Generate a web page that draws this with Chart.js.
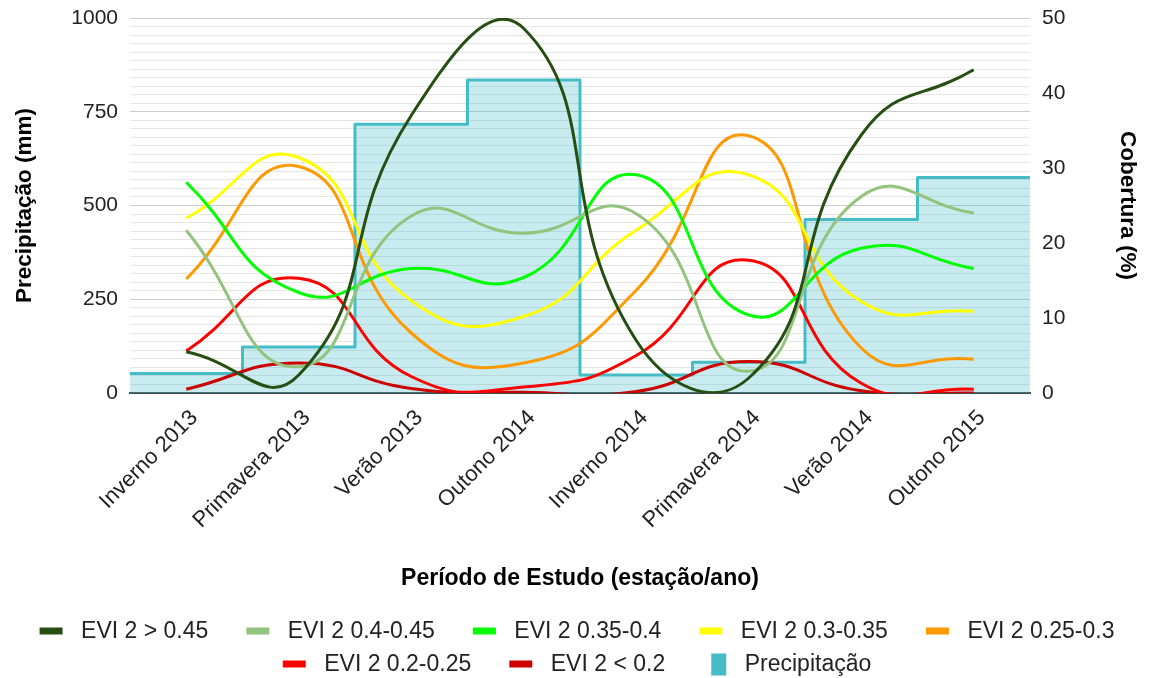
<!DOCTYPE html>
<html>
<head>
<meta charset="utf-8">
<script src="https://cdn.jsdelivr.net/npm/chart.js@4/dist/chart.umd.min.js"></script>
<style>
  html, body { margin: 0; background: #fff; }
  #wrap { width: 1150px; height: 678px; }
</style>
</head>
<body>
<div id="wrap"><canvas id="chart"></canvas></div>
<script>
// data
const periods = ["Inverno 2013", "Primavera 2013", "Verão 2013", "Outono 2014",
                 "Inverno 2014", "Primavera 2014", "Verão 2014", "Outono 2015"];
const precip   = [52, 123, 717, 835, 48, 82, 463, 575];        // mm
const evi045   = [5.5, 2.4, 37.0, 48.6, 7.0, 2.0, 34.4, 43.1]; // %
const evi04    = [21.7, 3.5, 23.6, 21.3, 23.9, 2.9, 26.2, 24.0];
const evi035   = [28.1, 13.4, 16.6, 15.4, 29.1, 10.4, 19.3, 16.6];
const evi03    = [23.3, 31.4, 12.3, 10.2, 21.7, 29.1, 12.2, 10.9];
const evi025   = [15.2, 30.2, 8.0, 4.0, 13.7, 34.3, 6.0, 4.5];
const evi02    = [5.6, 15.3, 2.2, 0.8, 5.0, 17.7, 1.3, 0.5];
const evi0     = [0.5, 4.0, 0.6, 0.1, 0.2, 4.2, 0.3, 0.0];

const seriesNames  = ["EVI 2 > 0.45", "EVI 2 0.4-0.45", "EVI 2 0.35-0.4", "EVI 2 0.3-0.35",
                      "EVI 2 0.25-0.3", "EVI 2 0.2-0.25", "EVI 2 < 0.2"];
const seriesData   = [evi045, evi04, evi035, evi03, evi025, evi02, evi0];
const seriesColors = ["#274e13", "#93c47d", "#00ff00", "#ffff00", "#ff9900", "#ff0000", "#cc0000"];
const rainColor = "#46bdc6";

// precipitation as a step band: each season covers its whole category slot
const rainSteps = precip.map((v, i) => ({ x: i - 0.5, y: v }));
rainSteps.push({ x: precip.length - 0.5, y: precip[precip.length - 1] });

// legend markers
function swatch(color, tall) {
  const c = document.createElement("canvas");
  c.width = 58; c.height = 24;
  const g = c.getContext("2d");
  g.fillStyle = color;
  if (tall) {
    g.fillRect(36, 1, 15, 22);
  } else {
    g.fillRect(28, 8, 23, 7);
  }
  return c;
}
const markers = seriesColors.map(c => swatch(c, false));
markers.push(swatch(rainColor, true));

// the legend row starts a little left and lower than chart.js would put it
const legendShift = {
  id: "legendShift",
  afterLayout(chart) {
    const lg = chart.legend;
    lg.left -= 24;
    lg.top += 8;
    lg.bottom += 8;
  }
};

// keep tick labels from pushing the plot area down
function noOverhang(s) {
  s.paddingTop = 0;
  s.paddingBottom = 0;
}

const datasets = seriesNames.map((name, i) => ({
  type: "line",
  label: name,
  data: seriesData[i],
  borderColor: seriesColors[i],
  backgroundColor: seriesColors[i],
  borderWidth: 3,
  pointRadius: 0,
  tension: 0.5,
  fill: false,
  xAxisID: "x",
  yAxisID: "y1"
}));
datasets.push({
  type: "line",
  label: "Precipitação",
  data: rainSteps,
  stepped: true,
  borderColor: rainColor,
  backgroundColor: "rgba(70, 189, 198, 0.3)",
  borderWidth: 3,
  borderJoinStyle: "round",
  pointRadius: 0,
  fill: "origin",
  xAxisID: "xStep",
  yAxisID: "y"
});

const fam = "'Liberation Sans', Arial, sans-serif";
const tickFont = { family: fam, size: 21 };
const titleFont = { family: fam, size: 22.5, weight: "bold" };

const config = {
  data: { labels: periods, datasets },
  plugins: [legendShift],
  options: {
    responsive: true,
    maintainAspectRatio: false,
    animation: false,
    devicePixelRatio: 1,
    layout: { padding: { top: 18, left: 0, right: 0, bottom: 0 } },
    elements: { line: { capBezierPoints: false } },
    plugins: {
      tooltip: { enabled: false },
      legend: {
        position: "bottom",
        labels: {
          usePointStyle: true,
          pointStyleWidth: 58,
          padding: 10,
          color: "#222",
          font: { family: fam, size: 23 },
          generateLabels(chart) {
            const items = Chart.defaults.plugins.legend.labels.generateLabels(chart);
            items.forEach(it => { it.pointStyle = markers[it.datasetIndex]; });
            return items;
          }
        }
      }
    },
    scales: {
      x: {
        type: "category",
        offset: true,
        grid: { display: false },
        border: { display: true, color: "#404a4d", width: 2 },
        ticks: {
          autoSkip: false, maxRotation: 45, minRotation: 45, padding: 4, labelOffset: 8,
          color: "#222", font: { family: fam, size: 22 }
        },
        title: {
          display: true, text: "Período de Estudo (estação/ano)",
          color: "#000", font: { family: fam, size: 23, weight: "bold" },
          padding: { top: 0, bottom: 10 }
        },
        afterFit(s) { s.height = s.chart.height - 393 - s.chart.legend.height; }
      },
      xStep: {
        type: "linear", display: false,
        min: -0.5, max: periods.length - 0.5
      },
      yMinor: {
        type: "linear", position: "left",
        min: 0, max: 44,
        ticks: { display: false, stepSize: 1 },
        grid: { color: "#e6e6e6", drawTicks: false, z: -2 },
        border: { display: false },
        afterFit(s) { s.width = 0; noOverhang(s); }
      },
      y: {
        type: "linear", position: "left",
        min: 0, max: 1000,
        ticks: { stepSize: 250, padding: 12, color: "#222", font: tickFont, callback: v => String(v) },
        grid: { color: "#cccccc", drawTicks: false },
        border: { display: false },
        title: {
          display: true, text: "Precipitação (mm)", color: "#000",
          font: titleFont, padding: { top: 11.5, bottom: 0 }
        },
        afterFit(s) { s.width = 130; noOverhang(s); }
      },
      y1: {
        type: "linear", position: "right",
        min: 0, max: 50,
        ticks: { stepSize: 10, padding: 12, color: "#222", font: tickFont },
        grid: { display: false, drawTicks: false },
        border: { display: false },
        title: {
          display: true, text: "Cobertura (%)", color: "#000",
          font: titleFont, padding: { top: 9.5, bottom: 0 }
        },
        afterFit(s) { s.width = 120; noOverhang(s); }
      }
    }
  }
};

const myChart = new Chart(document.getElementById("chart"), config);
</script>
</body>
</html>
